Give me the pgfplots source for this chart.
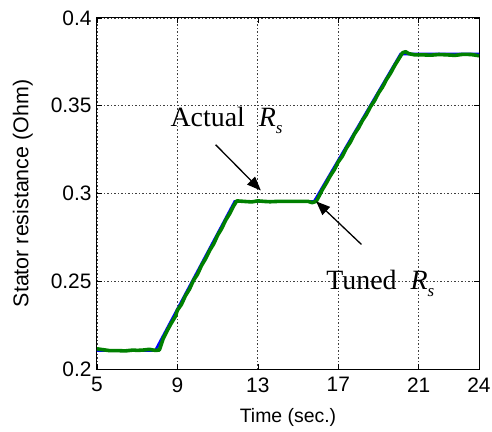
\documentclass[border=0pt]{standalone}
\usepackage{pgfplots}
\pgfplotsset{compat=1.18}
\usepackage{fontspec}
\setmainfont{Liberation Serif}
\setsansfont{Liberation Sans}
\usetikzlibrary{arrows.meta}
\definecolor{mgreen}{rgb}{0,0.5,0}
\begin{document}
\begin{tikzpicture}
\begin{axis}[
  scale only axis, width=382bp, height=351bp,
  xmin=5, xmax=24, ymin=0.2, ymax=0.4,
  xtick={5,9,13,17,21,24},
  ytick={0.2,0.25,0.3,0.35,0.4},
  yticklabels={0.2,0.25,0.3,0.35,0.4},
  grid=major,
  grid style={black!75, line width=0.7bp, dash pattern=on 1.5bp off 2bp},
  axis line style={black, line width=1bp},
  tick style={black, line width=0.6bp},
  tick align=inside, major tick length=5bp,
  /pgf/number format/assume math mode=true,
  ticklabel style={font=\sffamily\fontsize{21}{21}\selectfont},
  xticklabel style={yshift=-5bp},
  yticklabel style={xshift=-2bp},
  xlabel={Time (sec.)}, ylabel={Stator resistance (Ohm)},
  xlabel style={font=\sffamily\fontsize{19.5}{20}\selectfont, yshift=-9bp},
  ylabel style={font=\sffamily\fontsize{21.5}{22}\selectfont, yshift=11bp},
  clip=false,
]
\addplot[blue, line width=2.6bp] coordinates {
(5,0.2105)(7.9,0.2105)(11.85,0.2955)(15.8,0.2955)(20.1,0.3795)(24,0.3795)};
\addplot[mgreen, line width=3.6bp, line join=round] coordinates {
(5,0.2115)(5.3,0.211)(5.6,0.2105)(6,0.2105)(6.4,0.2103)(6.8,0.2108)(7.0,0.2106)(7.3,0.2108)(7.6,0.2112)(7.9,0.2106)(8.1,0.2108)
(8.3,0.2175)(8.5,0.222)(8.7,0.2262)(8.9,0.2300)(9.0,0.2335)(9.2,0.2368)(9.4,0.2418)(9.6,0.2455)(9.8,0.2505)(10.0,0.2540)(10.2,0.2590)(10.4,0.2628)(10.6,0.2675)(10.8,0.2712)(11.0,0.2762)(11.2,0.2800)(11.4,0.2848)(11.6,0.2885)(11.8,0.2930)(11.95,0.2958)
(12.3,0.2955)(12.7,0.2952)(13.0,0.2958)(13.3,0.2955)(13.6,0.2953)(14.0,0.2955)(14.4,0.2955)(14.8,0.2955)(15.2,0.2955)(15.5,0.2955)(15.7,0.2948)(15.9,0.2955)
(16.0,0.2975)(16.2,0.3020)(16.4,0.3058)(16.6,0.3100)(16.8,0.3135)(17.0,0.3180)(17.2,0.3212)(17.4,0.3258)(17.6,0.3292)(17.8,0.3338)(18.0,0.3372)(18.2,0.3415)(18.4,0.3450)(18.6,0.3494)(18.8,0.3528)(19.0,0.3572)(19.2,0.3606)(19.4,0.3650)(19.6,0.3685)(19.8,0.3728)(20.0,0.3765)(20.2,0.3802)(20.35,0.3808)
(20.5,0.3797)(20.8,0.379)(21.2,0.379)(21.6,0.3788)(22.0,0.3792)(22.4,0.379)(22.8,0.3787)(23.2,0.3793)(23.6,0.3792)(24,0.3785)};
\node[anchor=base west, inner sep=0pt, font=\fontsize{28}{30}\selectfont] at (axis cs:8.65,0.338) {Actual\hspace{14bp}\textit{R}\raisebox{-7bp}{\fontsize{17}{17}\selectfont\textit{s}}};
\node[anchor=base west, inner sep=0pt, font=\fontsize{28}{30}\selectfont] at (axis cs:16.4,0.2455) {Tuned\hspace{14bp}\textit{R}\raisebox{-7bp}{\fontsize{17}{17}\selectfont\textit{s}}};
\draw[line width=1.3bp, -{Triangle[length=14bp,width=11bp]}] (axis cs:10.9,0.3278) -- (axis cs:13.15,0.3017);
\draw[line width=1.3bp, -{Triangle[length=14bp,width=11bp]}] (axis cs:18.15,0.2710) -- (axis cs:15.9,0.2955);
\end{axis}
\pgfresetboundingbox
\path[use as bounding box] (-97bp,-63bp) rectangle (395bp,369bp);
\end{tikzpicture}
\end{document}
